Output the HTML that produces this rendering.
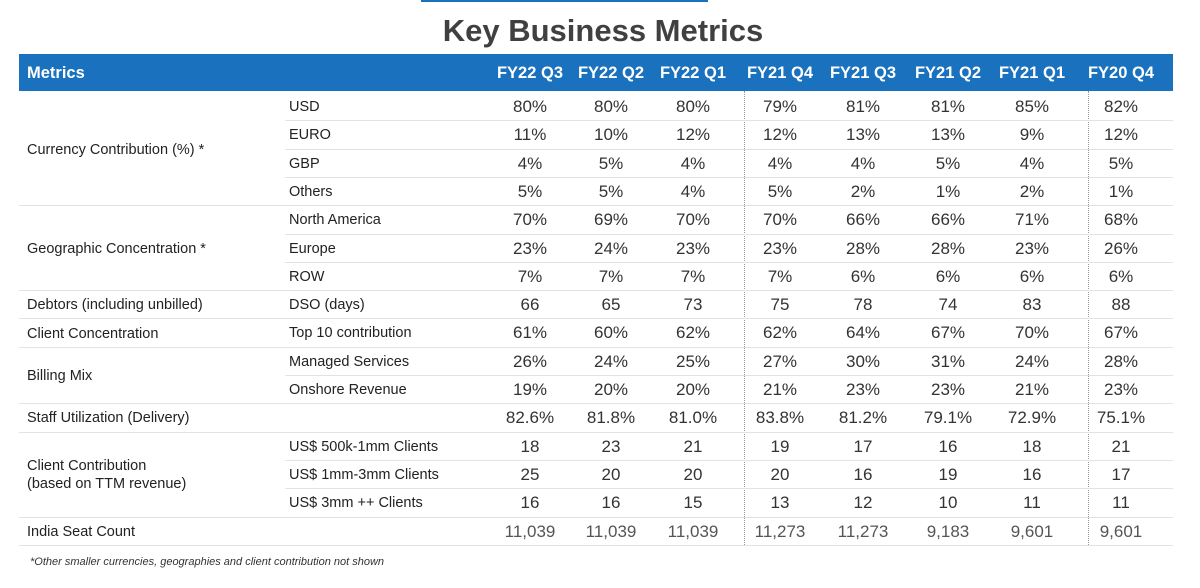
<!DOCTYPE html>
<html><head><meta charset="utf-8">
<style>
body{margin:0;width:1200px;height:588px;background:#fff;position:relative;overflow:hidden;font-family:"Liberation Sans",Arial,sans-serif;}
.abs{position:absolute;}
#title{left:0;width:1206px;top:13px;text-align:center;font-size:31px;font-weight:bold;color:#404040;}
#topbar{left:421px;width:287px;top:0;height:2px;background:#1a72bf;}
#hdr{left:19px;width:1154px;top:54px;height:37px;background:#1a72bf;}
.h{color:#fff;font-weight:bold;font-size:16.5px;top:64px;}
.v{font-size:17px;color:#333;text-align:center;width:90px;}
.sub{font-size:14.5px;color:#222;left:289px;}
.grp{font-size:14.5px;color:#222;left:27px;}
.ln{height:1px;background:#e2e2e2;}
.dot{width:0;border-left:1px dotted #999;top:91px;height:454px;}
#foot{left:30px;top:556px;font-size:11px;font-style:italic;color:#333;}
</style></head>
<body>
<div class="abs" id="topbar"></div>
<div class="abs" id="title">Key Business Metrics</div>
<div class="abs" id="hdr"></div>
<div class="abs h" style="left:27px">Metrics</div>
<div class="abs dot" style="left:744px"></div>
<div class="abs dot" style="left:1088px"></div>
<div class="abs" id="foot">*Other smaller currencies, geographies and client contribution not shown</div>
<script>
const periods=["FY22 Q3","FY22 Q2","FY22 Q1","FY21 Q4","FY21 Q3","FY21 Q2","FY21 Q1","FY20 Q4"];
const subLabels=["USD","EURO","GBP","Others","North America","Europe","ROW","DSO (days)","Top 10 contribution","Managed Services","Onshore Revenue","","US$ 500k-1mm Clients","US$ 1mm-3mm Clients","US$ 3mm ++ Clients",""];
const groups=[["Currency Contribution (%) *",0,4],["Geographic Concentration *",4,3],["Debtors (including unbilled)",7,1],["Client Concentration",8,1],["Billing Mix",9,2],["Staff Utilization (Delivery)",11,1],["Client Contribution<br>(based on TTM revenue)",12,3],["India Seat Count",15,1]];
const rowUSD=["80%","80%","80%","79%","81%","81%","85%","82%"];
const rowEURO=["11%","10%","12%","12%","13%","13%","9%","12%"];
const rowGBP=["4%","5%","4%","4%","4%","5%","4%","5%"];
const rowOthers=["5%","5%","4%","5%","2%","1%","2%","1%"];
const rowNA=["70%","69%","70%","70%","66%","66%","71%","68%"];
const rowEurope=["23%","24%","23%","23%","28%","28%","23%","26%"];
const rowROW=["7%","7%","7%","7%","6%","6%","6%","6%"];
const rowDSO=["66","65","73","75","78","74","83","88"];
const rowTop10=["61%","60%","62%","62%","64%","67%","70%","67%"];
const rowManaged=["26%","24%","25%","27%","30%","31%","24%","28%"];
const rowOnshore=["19%","20%","20%","21%","23%","23%","21%","23%"];
const rowStaff=["82.6%","81.8%","81.0%","83.8%","81.2%","79.1%","72.9%","75.1%"];
const row500k=["18","23","21","19","17","16","18","21"];
const row1mm=["25","20","20","20","16","19","16","17"];
const row3mm=["16","16","15","13","12","10","11","11"];
const rowSeats=["11,039","11,039","11,039","11,273","11,273","9,183","9,601","9,601"];
const rows=[rowUSD,rowEURO,rowGBP,rowOthers,rowNA,rowEurope,rowROW,rowDSO,rowTop10,rowManaged,rowOnshore,rowStaff,row500k,row1mm,row3mm,rowSeats];
const colX=[530,611,693,780,863,948,1032,1121];
const top0=92, rh=28.3;
function add(cls,txt,css){const d=document.createElement('div');d.className='abs '+cls;d.innerHTML=txt;Object.assign(d.style,css);document.body.appendChild(d);return d;}
periods.forEach((p,i)=>{
  const d=add('h',p,{left:(colX[i]-50)+'px',width:'100px',textAlign:'center'});
  
  
});
rows.forEach((r,ri)=>{
  const y=top0+ri*rh;
  const dark=ri===15;
  r.forEach((v,ci)=>{
    const d=add('v',v,{left:(colX[ci]-45)+'px',top:(y+5)+'px',color:dark?'#555':'#333'});
    
    
  });
  if(subLabels[ri]){
    const s=add('sub',subLabels[ri],{top:(y+7)+'px'});
    
    
  }
  const l=add('ln','',{left:'285px',width:'888px',top:Math.round(y+rh)+'px'});
  
  
});
groups.forEach((g,gi)=>{
  const y=top0+g[1]*rh, h=g[2]*rh;
  const two=g[0].indexOf('<br>')>=0;
  const d=add('grp',g[0],{top:(y+h/2-(two?17:8))+'px',lineHeight:'18px'});
  
  
  const l=add('ln','',{left:'19px',width:'1154px',top:Math.round(y+h)+'px'});
  
  
});
</script>
</body></html>
